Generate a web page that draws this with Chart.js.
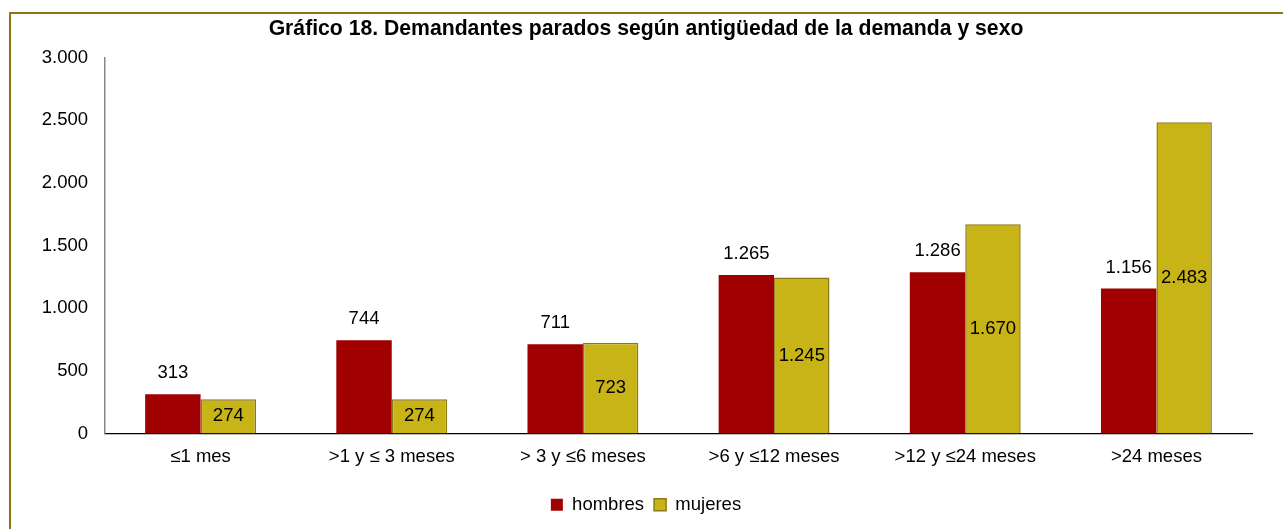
<!DOCTYPE html>
<html>
<head>
<meta charset="utf-8">
<script src="https://cdn.jsdelivr.net/npm/chart.js@4.4.1/dist/chart.umd.min.js"></script>
<style>
  html, body { margin: 0; padding: 0; background: #fff; overflow: hidden; }
  #wrap { position: relative; width: 1283px; height: 529px; }
  #frame { position: absolute; left: 9px; top: 12px; width: 1400px; height: 600px; border: 2px solid #8E7615; box-sizing: border-box; }
  canvas { position: absolute; left: 0; top: 0; }
</style>
</head>
<body>
<div id="wrap">
  <div id="frame"></div>
  <canvas id="c" width="1283" height="529"></canvas>
</div>
<script>
const titleText = 'Gráfico 18. Demandantes parados según antigüedad de la demanda y sexo';
const categories = ['≤1 mes', '>1 y ≤ 3 meses', '> 3 y ≤6 meses', '>6 y ≤12 meses', '>12 y ≤24 meses', '>24 meses'];
const hombres = [313, 744, 711, 1265, 1286, 1156];
const mujeres = [274, 274, 723, 1245, 1670, 2483];
const yTicks = [0, 500, 1000, 1500, 2000, 2500, 3000];

const FONT = '"Liberation Sans", Arial, sans-serif';
const fmt = v => String(v).replace(/\B(?=(\d{3})+(?!\d))/g, '.');
const PAD_LEFT = 40;

const labelPlugin = {
  id: 'barLabels',
  afterDatasetsDraw(chart) {
    const ctx = chart.ctx;
    ctx.save();
    ctx.font = '18.5px ' + FONT;
    ctx.fillStyle = '#000';
    ctx.textAlign = 'center';
    ctx.textBaseline = 'middle';
    chart.data.datasets.forEach((ds, i) => {
      const meta = chart.getDatasetMeta(i);
      meta.data.forEach((bar, j) => {
        const v = ds.data[j];
        const y = i === 0 ? bar.y - 21 : (bar.y + bar.base) / 2;
        ctx.fillText(fmt(v), bar.x, y);
      });
    });
    ctx.restore();
  }
};

new Chart(document.getElementById('c'), {
  type: 'bar',
  data: {
    labels: categories,
    datasets: [
      { label: 'hombres', data: hombres, backgroundColor: '#A00000', borderColor: '#A00000', borderWidth: 0 },
      { label: 'mujeres', data: mujeres, backgroundColor: '#C8B417', borderColor: '#8C7A12', borderWidth: 1.5 }
    ]
  },
  options: {
    responsive: false,
    animation: false,
    layout: { padding: { left: PAD_LEFT, right: 31, top: 0, bottom: 5 } },
    datasets: { bar: { categoryPercentage: 0.58, barPercentage: 1 } },
    plugins: {
      title: {
        display: true,
        text: titleText,
        color: '#000',
        font: { family: FONT, size: 21.2, weight: 'bold' },
        padding: { top: 16, bottom: 16 }
      },
      legend: {
        position: 'bottom',
        labels: {
          color: '#000',
          font: { family: FONT, size: 18.5 },
          boxWidth: 12,
          boxHeight: 12,
          padding: 10
        }
      },
      tooltip: { enabled: false }
    },
    scales: {
      x: {
        grid: { display: false, drawTicks: false },
        border: { display: true, color: '#000', width: 1.2 },
        ticks: { color: '#000', font: { family: FONT, size: 18.5 }, padding: 12, maxRotation: 0 },
        afterFit(scale) { scale.height = 52; }
      },
      y: {
        min: 0,
        max: 3000,
        grid: { display: false, drawTicks: false },
        border: { display: true, color: '#888', width: 1.5 },
        afterBuildTicks(scale) { scale.ticks = yTicks.map(v => ({ value: v })); },
        ticks: {
          color: '#000',
          font: { family: FONT, size: 18.5 },
          padding: 17,
          callback: v => fmt(v)
        },
        afterFit(scale) { scale.width = 105 - PAD_LEFT; }
      }
    }
  },
  plugins: [labelPlugin]
});
</script>
</body>
</html>
